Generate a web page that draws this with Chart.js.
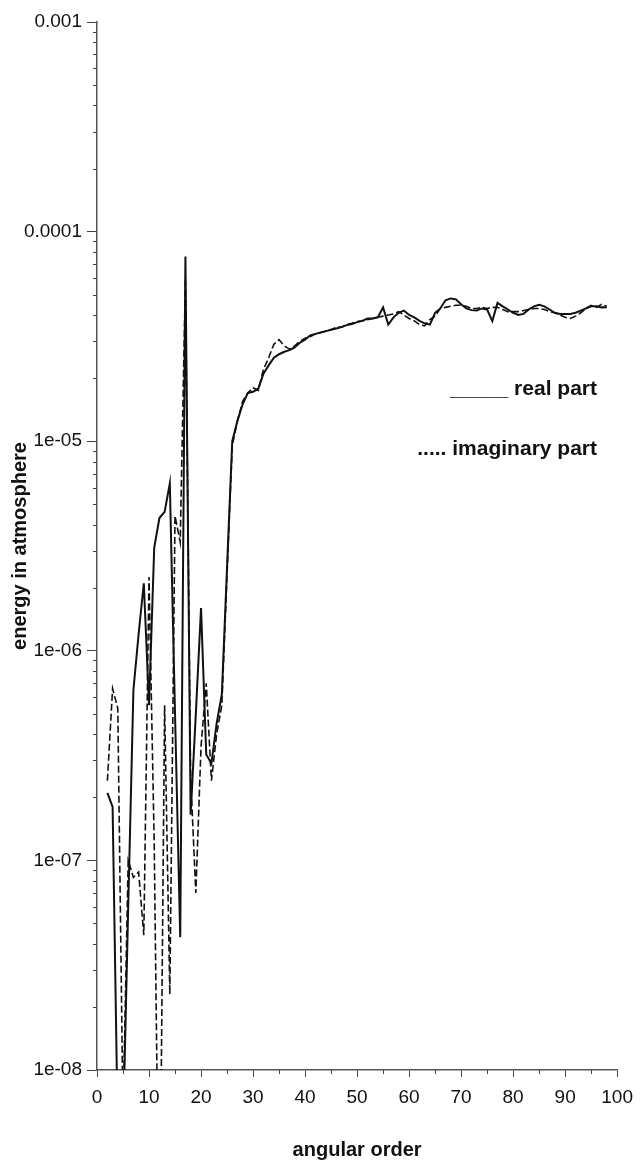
<!DOCTYPE html>
<html>
<head>
<meta charset="utf-8">
<script src="https://cdn.jsdelivr.net/npm/chart.js@4.4.1/dist/chart.umd.min.js"></script>
<style>
  html, body { margin: 0; padding: 0; background: #fff; }
  #wrap { position: relative; width: 642px; height: 1166px; }
  canvas { display: block; }
  .leg { position: absolute; font-family: "Liberation Sans", Arial, sans-serif; font-weight: bold; font-size: 21px; color: #111; white-space: pre; line-height: 24px; }
</style>
</head>
<body>
<div id="wrap">
  <canvas id="c" width="642" height="1166"></canvas>
  <div class="leg" id="leg1" style="right:45px; top:376px;">_____ real part</div>
  <div class="leg" id="leg2" style="right:45px; top:436px;">..... imaginary part</div>
</div>
<script>
// ---- data ----
const angularOrder = [];
for (let n = 2; n <= 98; n++) angularOrder.push(n);

const realPart = [
  2.1e-7, 1.8e-7, 5e-9, 5e-9, 6e-8, 6.5e-7, 1.2e-6, 2.1e-6, 5.5e-7,        // 2-10
  3.1e-6, 4.3e-6, 4.6e-6, 6.3e-6, 5e-7, 4.3e-8, 7.6e-5, 1.65e-7, 5e-7, 1.6e-6, // 11-20
  3.2e-7, 2.9e-7, 4.5e-7, 6.2e-7, 2.5e-6, 1.0e-5, 1.25e-5, 1.5e-5, 1.7e-5, 1.72e-5, // 21-30
  1.78e-5, 2.1e-5, 2.3e-5, 2.5e-5, 2.6e-5, 2.67e-5, 2.72e-5, 2.8e-5, 2.95e-5, 3.05e-5, // 31-40
  3.2e-5, 3.25e-5, 3.3e-5, 3.35e-5, 3.4e-5, 3.45e-5, 3.5e-5, 3.58e-5, 3.62e-5, 3.7e-5, // 41-50
  3.75e-5, 3.85e-5, 3.85e-5, 3.9e-5, 4.35e-5, 3.6e-5, 3.9e-5, 4.1e-5, 4.2e-5, 4.0e-5, // 51-60
  3.9e-5, 3.75e-5, 3.65e-5, 3.6e-5, 4.1e-5, 4.3e-5, 4.7e-5, 4.8e-5, 4.75e-5, 4.5e-5, // 61-70
  4.3e-5, 4.22e-5, 4.2e-5, 4.3e-5, 4.25e-5, 3.74e-5, 4.57e-5, 4.4e-5, 4.25e-5, 4.1e-5, // 71-80
  4.0e-5, 4.05e-5, 4.25e-5, 4.4e-5, 4.47e-5, 4.4e-5, 4.25e-5, 4.1e-5, 4.05e-5, 4.05e-5, // 81-90
  4.05e-5, 4.1e-5, 4.2e-5, 4.3e-5, 4.4e-5, 4.4e-5, 4.35e-5, 4.36e-5                 // 91-98
];

const imaginaryPart = [
  2.4e-7, 6.6e-7, 5.3e-7, 6e-9, 1.0e-7, 8.3e-8, 8.8e-8, 4.4e-8, 2.25e-6,     // 2-10
  1.2e-7, 1e-9, 5.5e-7, 2.3e-8, 4.4e-6, 3.3e-6, 6.0e-5, 2.5e-7, 7e-8, 3.5e-7, // 11-20
  7e-7, 2.4e-7, 4e-7, 5.5e-7, 2.3e-6, 9.5e-6, 1.25e-5, 1.55e-5, 1.7e-5, 1.8e-5, // 21-30
  1.75e-5, 2.2e-5, 2.5e-5, 2.9e-5, 3.05e-5, 2.85e-5, 2.75e-5, 2.85e-5, 3.0e-5, 3.1e-5, // 31-40
  3.15e-5, 3.25e-5, 3.3e-5, 3.35e-5, 3.4e-5, 3.5e-5, 3.5e-5, 3.6e-5, 3.65e-5, 3.72e-5, // 41-50
  3.75e-5, 3.8e-5, 3.85e-5, 3.9e-5, 3.95e-5, 4.0e-5, 4.05e-5, 4.15e-5, 4.0e-5, 3.85e-5, // 51-60
  3.75e-5, 3.6e-5, 3.55e-5, 3.8e-5, 3.95e-5, 4.3e-5, 4.35e-5, 4.4e-5, 4.45e-5, 4.45e-5, // 61-70
  4.4e-5, 4.3e-5, 4.3e-5, 4.35e-5, 4.3e-5, 4.35e-5, 4.35e-5, 4.25e-5, 4.15e-5, 4.15e-5, // 71-80
  4.15e-5, 4.2e-5, 4.25e-5, 4.3e-5, 4.3e-5, 4.25e-5, 4.15e-5, 4.1e-5, 4.0e-5, 3.9e-5, // 81-90
  3.85e-5, 3.95e-5, 4.1e-5, 4.3e-5, 4.45e-5, 4.35e-5, 4.5e-5, 4.4e-5               // 91-98
];

const xTickValues = [0, 10, 20, 30, 40, 50, 60, 70, 80, 90, 100];
const yTickValues = [1e-3, 1e-4, 1e-5, 1e-6, 1e-7, 1e-8];
const yTickLabels = ['0.001', '0.0001', '1e-05', '1e-06', '1e-07', '1e-08'];

// ---- chart ----
const FONT = '"Liberation Sans", Arial, sans-serif';

const minorTicks = {
  id: 'minorTicks',
  afterDraw(chart) {
    const ctx = chart.ctx, x = chart.scales.x, y = chart.scales.y;
    ctx.save();
    ctx.strokeStyle = '#444';
    ctx.lineWidth = 1;
    ctx.beginPath();
    for (let e = -8; e < -3; e++) {
      for (let k = 2; k <= 9; k++) {
        const py = Math.round(y.getPixelForValue(k * Math.pow(10, e))) + 0.5;
        ctx.moveTo(x.left - 4, py); ctx.lineTo(x.left, py);
      }
    }
    for (let v = 5; v < 100; v += 10) {
      const px = Math.round(x.getPixelForValue(v)) + 0.5;
      ctx.moveTo(px, y.bottom); ctx.lineTo(px, y.bottom + 4);
    }
    ctx.stroke();
    ctx.restore();
  }
};

new Chart(document.getElementById('c'), {
  type: 'line',
  data: {
    labels: angularOrder,
    datasets: [
      {
        label: 'real part',
        data: angularOrder.map((n, i) => ({ x: n, y: realPart[i] })),
        borderColor: '#111',
        borderWidth: 2,
        pointRadius: 0,
        tension: 0,
        fill: false
      },
      {
        label: 'imaginary part',
        data: angularOrder.map((n, i) => ({ x: n, y: imaginaryPart[i] })),
        borderColor: '#111',
        borderWidth: 1.6,
        borderDash: [7, 3],
        pointRadius: 0,
        tension: 0,
        fill: false
      }
    ]
  },
  options: {
    responsive: false,
    devicePixelRatio: 1,
    animation: false,
    layout: { padding: { left: 0, top: 22, right: 19, bottom: 0 } },
    plugins: { legend: { display: false }, tooltip: { enabled: false } },
    scales: {
      x: {
        type: 'linear',
        min: 0,
        max: 100,
        afterBuildTicks: s => { s.ticks = xTickValues.map(v => ({ value: v })); },
        afterFit: s => { s.height = 96; },
        border: { display: true, color: '#555', width: 1.5 },
        grid: { drawOnChartArea: false, drawTicks: true, tickLength: 7, color: '#444' },
        ticks: { color: '#111', font: { family: FONT, size: 19 }, padding: 9, maxRotation: 0 },
        title: { display: true, text: 'angular order', color: '#111', font: { family: FONT, size: 20, weight: 'bold' }, padding: { top: 0, bottom: 4 } }
      },
      y: {
        type: 'logarithmic',
        min: 1e-8,
        max: 1e-3,
        afterBuildTicks: s => { s.ticks = yTickValues.map(v => ({ value: v })); },
        afterFit: s => { s.width = 97; },
        border: { display: true, color: '#555', width: 1.5 },
        grid: { drawOnChartArea: false, drawTicks: true, tickLength: 10, color: '#444' },
        ticks: {
          color: '#111',
          font: { family: FONT, size: 19 },
          padding: 5,
          callback: v => { const i = yTickValues.findIndex(t => Math.abs(t - v) / t < 1e-6); return i >= 0 ? yTickLabels[i] : ''; }
        },
        title: { display: true, text: 'energy in atmosphere', color: '#111', font: { family: FONT, size: 20, weight: 'bold' }, padding: { top: 8, bottom: 0 } }
      }
    }
  },
  plugins: [minorTicks]
});
</script>
</body>
</html>
